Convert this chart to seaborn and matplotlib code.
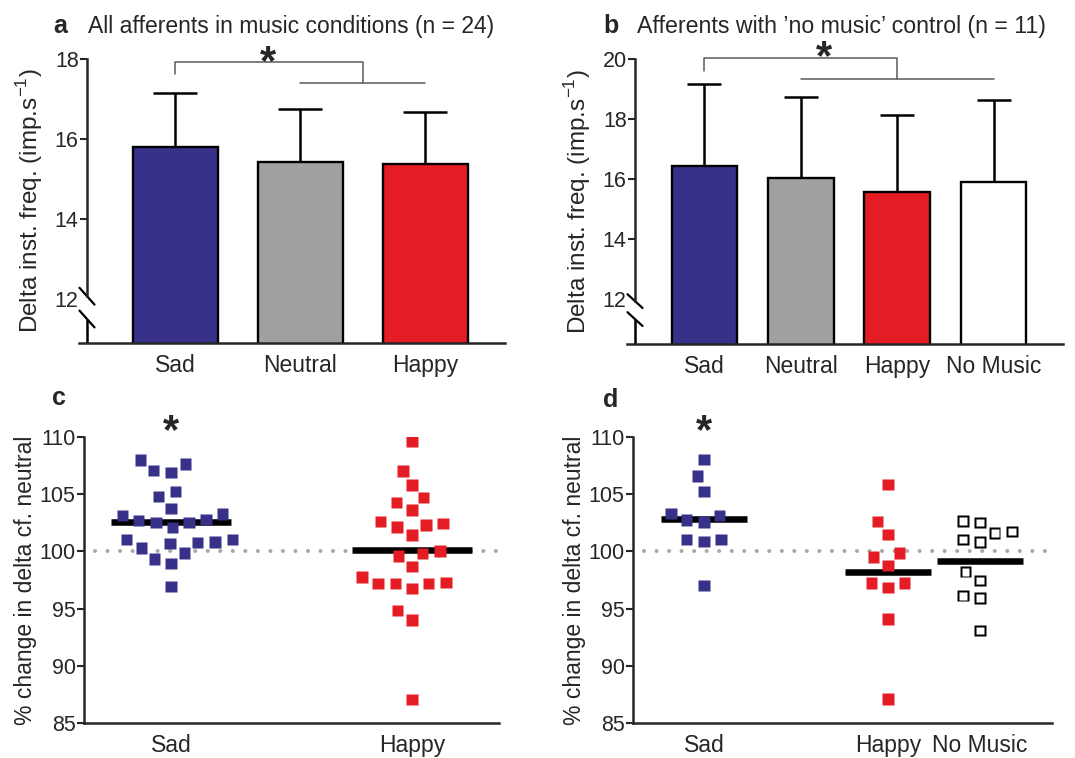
import numpy as np
import pandas as pd
import matplotlib
matplotlib.use('Agg')
import matplotlib.pyplot as plt
import seaborn as sns

# ---- panel a: all afferents, mean and upper SD (imp.s-1)
conds_a = ['Sad', 'Neutral', 'Happy']
mean_a = [15.80, 15.42, 15.37]
err_a = [1.35, 1.33, 1.30]

# ---- panel b: afferents with 'no music' control
conds_b = ['Sad', 'Neutral', 'Happy', 'No Music']
mean_b = [16.43, 16.03, 15.57, 15.90]
err_b = [2.74, 2.70, 2.56, 2.73]

# ---- panel c: % change in delta cf. neutral, single afferents (n = 24)
sad_c = [107.99, 107.06, 106.88, 107.64, 104.78, 105.22, 103.27, 102.77,
         102.54, 102.54, 102.68, 103.15, 103.76, 102.10, 101.05, 100.82,
         100.29, 100.67, 100.76, 101.02, 99.85, 99.33, 98.92, 96.94]
happy_c = [109.62, 107.03, 105.80, 104.72, 104.26, 103.62, 102.59, 102.30,
           102.13, 102.42, 101.43, 100.03, 99.59, 99.83, 98.69, 97.76,
           97.26, 97.17, 96.76, 97.17, 97.17, 94.84, 94.02, 87.08]

# ---- panel d: same, n = 11 with no music control
sad_d = [108.02, 106.59, 105.25, 103.15, 102.57, 102.74, 103.33, 101.05,
         100.87, 101.05, 97.00]
happy_d = [105.86, 102.62, 101.46, 99.50, 99.85, 98.75, 97.23, 97.23,
           96.82, 94.08, 87.11]
nomusic_d = [102.54, 101.75, 101.05, 102.65, 101.60, 100.82, 98.22, 97.46,
             96.12, 95.92, 93.09]

BLUE = '#37318a'
GREY = '#a0a0a0'
RED = '#e31d23'
BRACKET = '#5a5a5a'

sns.set_style('ticks')
plt.rcParams['font.family'] = ['Liberation Sans', 'DejaVu Sans']
plt.rcParams['mathtext.fontset'] = 'custom'
plt.rcParams['mathtext.rm'] = 'Liberation Sans'

W, H = 1075, 758
fig = plt.figure(figsize=(W / 100, H / 100), dpi=100)


def px_axes(left, top, right, bottom):
    return fig.add_axes([left / W, 1 - bottom / H, (right - left) / W, (bottom - top) / H])


ax_a = px_axes(79, 59, 505, 343)
ax_b = px_axes(627, 59, 1063, 344)
ax_c = px_axes(84, 437, 499, 723)
ax_d = px_axes(633, 437, 1052, 723)


def style_axes(ax):
    ax.spines[['top', 'right']].set_visible(False)
    for s in ['left', 'bottom']:
        ax.spines[s].set_linewidth(1.8)
    ax.tick_params(axis='y', direction='out', length=5, width=1.5, labelsize=15.5, pad=1)
    ax.tick_params(axis='x', length=0, labelsize=16.5, pad=8)
    ax.set_xlabel('')


def star(ax, x, y):
    ax.annotate('*', xy=(x, y), xytext=(0, -17), textcoords='offset points',
                ha='center', va='baseline', fontsize=30, fontweight='bold',
                annotation_clip=False)


def bar_panel(ax, conds, means, errs, colors, xlim, ylim, spine_x, brk, slash, cap):
    pal = dict(zip(conds, colors))
    sns.barplot(x=conds, y=means, hue=conds, palette=pal, width=0.68, errorbar=None,
                edgecolor='black', linewidth=1.7, saturation=1, legend=False, ax=ax)
    eb = ax.errorbar(np.arange(len(conds)), means, yerr=[np.zeros(len(errs)), errs],
                     fmt='none', ecolor='black', elinewidth=1.8, capsize=cap, capthick=1.8)
    eb[1][0].set_visible(False)  # no cap on the bar top
    style_axes(ax)
    ax.set_xlim(*xlim)
    ax.set_ylim(*ylim)
    ax.set_yticks(np.arange(12, ylim[1] + 0.1, 2))
    ax.spines['left'].set_position(('data', spine_x))
    # broken axis
    ax.spines['left'].set_bounds(brk[0], ylim[1])
    ax.plot([spine_x, spine_x], [ylim[0], brk[1]], color='black', lw=1.8,
            clip_on=False, solid_capstyle='butt')
    dx, dy = slash
    for yb in brk:
        ax.plot([spine_x - dx, spine_x + dx], [yb + dy, yb - dy], color='black',
                lw=1.6, clip_on=False)
    ax.yaxis.get_major_ticks()[0].tick1line.set_visible(False)
    ax.set_ylabel(r'Delta inst. freq. (imp.s$^{\mathregular{-1}}$)', fontsize=17.5, labelpad=7)


def bracket(ax, x_left, x_mid, x_r0, x_r1, y_top, y_leg, y_low, star_x, star_y):
    kw = dict(color=BRACKET, lw=1.1, clip_on=False)
    ax.plot([x_left, x_left, x_mid, x_mid], [y_leg, y_top, y_top, y_low], **kw)
    ax.plot([x_r0, x_r1], [y_low, y_low], **kw)
    star(ax, star_x, star_y)


# ---- a
bar_panel(ax_a, conds_a, mean_a, err_a, [BLUE, GREY, RED],
          xlim=(-0.768, 2.64), ylim=(10.9, 18), spine_x=-0.704,
          brk=(12.07, 11.5), slash=(0.06, 0.21), cap=16)
bracket(ax_a, 0, 1.5, 1, 2, 17.93, 17.63, 17.4, 0.74, 18.22)

# ---- b
bar_panel(ax_b, conds_b, mean_b, err_b, [BLUE, GREY, RED, 'white'],
          xlim=(-0.803, 3.72), ylim=(10.5, 20), spine_x=-0.72,
          brk=(11.93, 11.33), slash=(0.078, 0.23), cap=12)
bracket(ax_b, 0, 2, 1, 3, 20.03, 19.6, 19.33, 1.24, 20.45)


def dot_line(ax, xmin):
    ax.axhline(100, xmin=xmin, xmax=1, color='#a8a8a8', lw=2.9,
               linestyle=(0, (0.01, 3.1)), dash_capstyle='round', zorder=0)


# ---- c
order_c = ['Sad', 'Happy']
df_c = pd.DataFrame({'cond': ['Sad'] * len(sad_c) + ['Happy'] * len(happy_c),
                     'val': sad_c + happy_c})
dot_line(ax_c, 0.027)
sns.pointplot(data=df_c, x='cond', y='val', order=order_c, estimator='mean', errorbar=None,
              color='black', marker='_', linestyle='none', markersize=86,
              markeredgewidth=4.7, ax=ax_c)
sns.swarmplot(data=df_c, x='cond', y='val', hue='cond', order=order_c,
              palette={'Sad': BLUE, 'Happy': RED}, marker='s', size=8.2,
              linewidth=3.7, edgecolor=(1, 1, 1, 0), legend=False, ax=ax_c)
style_axes(ax_c)
ax_c.set_xlim(-0.361, 1.361)
ax_c.set_ylim(85, 110)
ax_c.set_yticks(np.arange(85, 111, 5))
ax_c.set_ylabel('% change in delta cf. neutral', fontsize=16.5, labelpad=2)
star(ax_c, 0, 111.5)

# ---- d
order_d = ['Sad', 'Neutral', 'Happy', 'No Music']
df_d = pd.DataFrame({'cond': ['Sad'] * len(sad_d) + ['Happy'] * len(happy_d)
                     + ['No Music'] * len(nomusic_d),
                     'val': sad_d + happy_d + nomusic_d})
dot_line(ax_d, 0.027)
sns.pointplot(data=df_d, x='cond', y='val', order=order_d, estimator='mean', errorbar=None,
              color='black', marker='_', linestyle='none', markersize=62,
              markeredgewidth=4.7, ax=ax_d)
sns.swarmplot(data=df_d, x='cond', y='val', hue='cond', order=order_d,
              palette={'Sad': BLUE, 'Happy': RED, 'No Music': 'black'}, marker='s',
              size=8.2, linewidth=3.7, edgecolor=(1, 1, 1, 0), legend=False, ax=ax_d)
# open squares for no music: white centre swarm with the same footprint
sns.swarmplot(data=df_d[df_d['cond'] == 'No Music'], x='cond', y='val', hue='cond',
              order=order_d, palette={'No Music': 'white'}, marker='s',
              size=5.4, linewidth=6.5, edgecolor=(1, 1, 1, 0), legend=False, ax=ax_d)
style_axes(ax_d)
ax_d.set_xticks([0, 2, 3], ['Sad', 'Happy', 'No Music'])
ax_d.set_xlim(-0.77, 3.78)
ax_d.set_ylim(85, 110)
ax_d.set_yticks(np.arange(85, 111, 5))
ax_d.set_ylabel('% change in delta cf. neutral', fontsize=16.5, labelpad=2)
star(ax_d, 0, 111.5)

# ---- panel letters and titles
fig.text(53 / W, 1 - 33 / H, 'a', fontsize=18, fontweight='bold', va='baseline')
fig.text(88 / W, 1 - 33 / H, 'All afferents in music conditions (n = 24)', fontsize=16.5,
         va='baseline')
fig.text(603 / W, 1 - 33 / H, 'b', fontsize=18, fontweight='bold', va='baseline')
fig.text(637 / W, 1 - 33 / H, 'Afferents with \u2019no music\u2019 control (n = 11)',
         fontsize=16.7, va='baseline')
fig.text(52 / W, 1 - 405 / H, 'c', fontsize=18, fontweight='bold', va='baseline')
fig.text(603 / W, 1 - 407 / H, 'd', fontsize=18, fontweight='bold', va='baseline')

fig.savefig('out.png', dpi=100)
